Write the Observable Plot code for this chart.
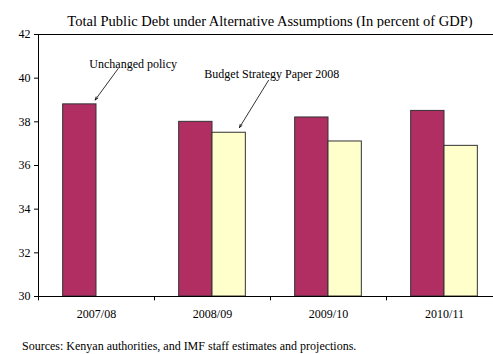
<!DOCTYPE html>
<html><head><meta charset="utf-8">
<script src="https://cdn.jsdelivr.net/npm/d3@7"></script>
<script src="https://cdn.jsdelivr.net/npm/@observablehq/plot@0.6"></script>
<style>
html,body{margin:0;padding:0;overflow:hidden;background:#fff;width:493px;height:354px;}
#title{position:absolute;left:37px;width:466px;top:12px;font-family:"Liberation Serif","Times New Roman",Times,serif;font-size:14.5px;line-height:18px;text-align:center;white-space:nowrap;}
#chart{position:absolute;left:0;top:28px;width:503px;}
#chart svg{max-width:none !important;}
#caption{position:absolute;left:22px;top:339px;font-family:"Liberation Serif","Times New Roman",Times,serif;font-size:12px;line-height:15px;white-space:nowrap;}
</style></head><body>
<div id="title">Total Public Debt under Alternative Assumptions (In percent of GDP)</div>
<div id="chart"></div>
<div id="caption">Sources: Kenyan authorities, and IMF staff estimates and projections.</div>
<script>
const years = ["2007/08", "2008/09", "2009/10", "2010/11"];
const seriesNames = ["Unchanged policy", "Budget Strategy Paper 2008"];
const unchangedPolicy = [38.8, 38.0, 38.2, 38.5];
const budgetStrategy = [null, 37.5, 37.1, 36.9];
const yTicks = [30, 32, 34, 36, 38, 40, 42];
const seriesColors = ["#B12E63", "#FFFFCC"];

const rows = [];
years.forEach((year, j) => {
  [unchangedPolicy, budgetStrategy].forEach((vals, i) => {
    if (vals[j] != null) rows.push({year, series: seriesNames[i], i, value: vals[j]});
  });
});

const xDomain = [-0.74, 2.74];
const annotations = [
  {label: "Unchanged policy", year: "2007/08", tx: 2.10, ty: 40.63, x1: 1.65, y1: 40.44, x2: 0.96, y2: 39.0},
  {label: "Budget Strategy Paper 2008", year: "2008/09", tx: 2.78, ty: 40.17, x1: 2.68, y1: 39.9, x2: 1.81, y2: 37.74}
];

const chart = Plot.plot({
  width: 503, height: 300,
  marginTop: 6, marginBottom: 32, marginLeft: 37, marginRight: 0,
  style: {fontFamily: "'Liberation Serif', 'Times New Roman', Times, serif", fontSize: "12px", background: "white", color: "black", maxWidth: "none"},
  fx: {domain: years, padding: 0, label: null, tickSize: 0, tickPadding: 13},
  x: {domain: xDomain, axis: null},
  y: {domain: [30, 42], ticks: yTicks, tickSize: 4, tickPadding: 4, label: null},
  color: {domain: seriesNames, range: seriesColors},
  marks: [
    Plot.rectY(rows, {fx: "year", x1: "i", x2: d => d.i + 1, y1: 30, y2: "value", fill: "series", stroke: "#333", strokeWidth: 1}),
    Plot.ruleY([30, 42], {stroke: "black"}),
    Plot.ruleX([years[0]], {fx: d => d, x: xDomain[0], y1: 30, y2: 42, stroke: "black"}),
    Plot.ruleX(years, {fx: d => d, x: xDomain[0], y1: 30, y2: 29.8, stroke: "black"}),
    Plot.arrow(annotations, {fx: "year", x1: "x1", y1: "y1", x2: "x2", y2: "y2", headLength: 6, headAngle: 40, strokeWidth: 0.8, stroke: "black"}),
    Plot.text(annotations, {fx: "year", x: "tx", y: "ty", text: "label", fontSize: 12, fill: "black"})
  ]
});
document.getElementById("chart").appendChild(chart);
</script>
</body></html>
